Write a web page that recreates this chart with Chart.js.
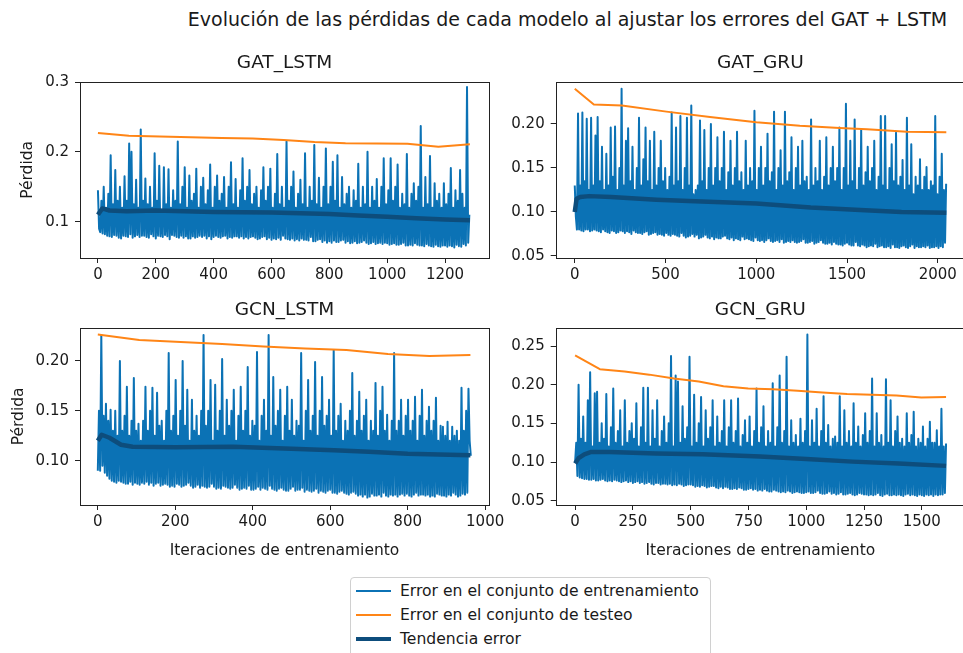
<!DOCTYPE html>
<html>
<head>
<meta charset="utf-8">
<script src="https://cdn.jsdelivr.net/npm/chart.js@4.4.1/dist/chart.umd.min.js"></script>
<style>
  html, body { margin: 0; padding: 0; background: #fff; }
  body { width: 963px; height: 653px; overflow: hidden; position: relative; font-family: 'DejaVu Sans', sans-serif; color: #1a1a1a; }
  canvas { position: absolute; }
  #suptitle { position: absolute; left: 150px; width: 835px; top: 8px; text-align: center; font-size: 19px; line-height: 22px; white-space: nowrap; }
  #legend { position: absolute; left: 350px; top: 577px; width: 361px; height: 100px; border: 1px solid #d0d0d0; border-radius: 4px; box-sizing: border-box; padding-top: 1px; }
  #legend .row { height: 24px; line-height: 24px; font-size: 15.6px; white-space: nowrap; position: relative; padding-left: 49px; }
  #legend .sw { position: absolute; left: 5px; width: 35px; }
</style>
</head>
<body>
<div id="suptitle">Evolución de las pérdidas de cada modelo al ajustar los errores del GAT + LSTM</div>
<canvas id="c1" width="530" height="250" style="left:0px;top:40px"></canvas>
<canvas id="c2" width="530" height="250" style="left:475px;top:40px"></canvas>
<canvas id="c3" width="530" height="270" style="left:0px;top:290px"></canvas>
<canvas id="c4" width="530" height="270" style="left:475px;top:290px"></canvas>
<div id="legend"></div>
<script>
// series names
const seriesNames = ["Error en el conjunto de entrenamiento", "Error en el conjunto de testeo", "Tendencia error"];
const trainColor = '#0b72b5';
const testColor = '#ff8516';
const trendColor = '#0d4d7c';

// GAT_LSTM
const gatLstmStep = 4; // iterations between kept samples
const gatLstmTrain = [
  0.145,0.09, 0.085,0.13, 0.083,0.150, 0.082,0.12, 0.08,0.140, 0.079,0.195, 0.078,0.125, 0.081,0.174, 0.080,0.13, 0.077,0.150,
  0.076,0.12, 0.08,0.165, 0.079,0.13, 0.078,0.212, 0.082,0.200, 0.077,0.125, 0.079,0.160, 0.081,0.12, 0.078,0.232, 0.080,0.13,
  0.08,0.162, 0.078,0.125, 0.077,0.150, 0.082,0.12, 0.079,0.198, 0.076,0.13, 0.08,0.180, 0.079,0.115, 0.078,0.178, 0.081,0.125,
  0.079,0.175, 0.075,0.12, 0.081,0.145, 0.080,0.13, 0.078,0.215, 0.077,0.125, 0.08,0.150, 0.077,0.178, 0.079,0.12, 0.076,0.166,
  0.076,0.13, 0.079,0.140, 0.077,0.176, 0.078,0.12, 0.08,0.150, 0.078,0.163, 0.080,0.125, 0.076,0.145, 0.079,0.182, 0.075,0.12,
  0.078,0.150, 0.08,0.166, 0.078,0.13, 0.077,0.140, 0.079,0.164, 0.080,0.12, 0.076,0.150, 0.078,0.185, 0.077,0.125, 0.079,0.161,
  0.079,0.12, 0.077,0.145, 0.079,0.191, 0.076,0.13, 0.078,0.150, 0.076,0.174, 0.078,0.125, 0.079,0.140, 0.077,0.150, 0.075,0.12,
  0.076,0.145, 0.078,0.178, 0.079,0.13, 0.075,0.150, 0.077,0.176, 0.074,0.12, 0.076,0.140, 0.075,0.197, 0.077,0.125, 0.074,0.150,
  0.080,0.12, 0.076,0.215, 0.075,0.13, 0.074,0.150, 0.076,0.172, 0.073,0.12, 0.075,0.140, 0.073,0.160, 0.076,0.125, 0.074,0.198,
  0.074,0.12, 0.073,0.150, 0.078,0.13, 0.072,0.210, 0.072,0.125, 0.074,0.163, 0.075,0.12, 0.071,0.150, 0.073,0.205, 0.070,0.125,
  0.072,0.150, 0.07,0.186, 0.073,0.13, 0.071,0.195, 0.071,0.12, 0.073,0.164, 0.074,0.125, 0.07,0.140, 0.072,0.150, 0.069,0.12,
  0.07,0.145, 0.072,0.13, 0.069,0.183, 0.070,0.12, 0.071,0.150, 0.073,0.125, 0.07,0.200, 0.068,0.12, 0.069,0.150, 0.071,0.13,
  0.068,0.161, 0.069,0.12, 0.07,0.150, 0.068,0.191, 0.070,0.125, 0.069,0.145, 0.067,0.191, 0.068,0.13, 0.069,0.150, 0.067,0.182,
  0.067,0.12, 0.068,0.140, 0.070,0.125, 0.066,0.197, 0.066,0.12, 0.067,0.140, 0.066,0.155, 0.069,0.13, 0.067,0.150, 0.066,0.237,
  0.066,0.12, 0.065,0.164, 0.068,0.125, 0.066,0.194, 0.065,0.12, 0.064,0.155, 0.067,0.13, 0.065,0.140, 0.064,0.12, 0.066,0.155,
  0.066,0.125, 0.064,0.140, 0.066,0.177, 0.065,0.12, 0.063,0.145, 0.067,0.13, 0.065,0.174, 0.064,0.140, 0.068,0.12, 0.066,0.293, 0.070,0.11
];
const gatLstmTestX = [0, 107, 214, 321, 428, 535, 642, 749, 856, 963, 1070, 1177, 1286];
const gatLstmTestY = [0.227, 0.223, 0.222, 0.221, 0.220, 0.219, 0.217, 0.214, 0.2125, 0.212, 0.2115, 0.2075, 0.211];
const gatLstmTrendX = [0, 15, 40, 100, 200, 300, 400, 500, 600, 700, 800, 900, 1000, 1100, 1200, 1286];
const gatLstmTrendY = [0.110, 0.119, 0.116, 0.115, 0.116, 0.115, 0.114, 0.1135, 0.113, 0.112, 0.111, 0.109, 0.107, 0.105, 0.103, 0.102];
const gatLstmXTicks = [0, 200, 400, 600, 800, 1000, 1200];
const gatLstmYTicks = [0.1, 0.2, 0.3];

// GAT_GRU
const gatGruStep = 6;
const gatGruTrain = [
  0.130,0.095, 0.08,0.212, 0.080,0.13, 0.079,0.213, 0.078,0.135, 0.08,0.206, 0.080,0.125, 0.078,0.207, 0.079,0.13, 0.08,0.187,
  0.079,0.208, 0.078,0.135, 0.077,0.174, 0.080,0.125, 0.078,0.166, 0.077,0.13, 0.076,0.196, 0.079,0.14, 0.078,0.197, 0.076,0.125,
  0.077,0.150, 0.079,0.240, 0.078,0.13, 0.076,0.181, 0.078,0.195, 0.077,0.135, 0.075,0.174, 0.079,0.125, 0.077,0.150, 0.076,0.207,
  0.076,0.13, 0.075,0.160, 0.077,0.196, 0.078,0.135, 0.074,0.181, 0.075,0.125, 0.076,0.191, 0.077,0.13, 0.074,0.150, 0.075,0.181,
  0.074,0.135, 0.073,0.150, 0.076,0.125, 0.074,0.140, 0.073,0.213, 0.075,0.13, 0.074,0.196, 0.073,0.135, 0.072,0.209, 0.076,0.125,
  0.073,0.150, 0.071,0.207, 0.072,0.13, 0.073,0.221, 0.075,0.12, 0.072,0.125, 0.074,0.13, 0.07,0.204, 0.071,0.135, 0.072,0.193,
  0.074,0.125, 0.071,0.150, 0.07,0.200, 0.072,0.13, 0.069,0.150, 0.071,0.185, 0.070,0.135, 0.07,0.150, 0.072,0.191, 0.073,0.125,
  0.07,0.145, 0.069,0.181, 0.071,0.13, 0.068,0.150, 0.07,0.191, 0.069,0.135, 0.068,0.145, 0.072,0.125, 0.069,0.181, 0.070,0.13,
  0.069,0.150, 0.068,0.135, 0.067,0.215, 0.071,0.125, 0.068,0.150, 0.067,0.174, 0.068,0.13, 0.066,0.150, 0.068,0.189, 0.070,0.135,
  0.067,0.145, 0.066,0.214, 0.067,0.125, 0.068,0.150, 0.066,0.170, 0.069,0.13, 0.065,0.214, 0.066,0.135, 0.067,0.145, 0.066,0.185,
  0.068,0.125, 0.066,0.150, 0.065,0.174, 0.066,0.13, 0.067,0.181, 0.069,0.135, 0.065,0.140, 0.065,0.125, 0.066,0.205, 0.067,0.13,
  0.064,0.150, 0.065,0.135, 0.066,0.181, 0.068,0.125, 0.065,0.140, 0.064,0.185, 0.064,0.13, 0.065,0.150, 0.063,0.174, 0.066,0.135,
  0.064,0.150, 0.063,0.196, 0.063,0.125, 0.062,0.150, 0.064,0.223, 0.065,0.13, 0.063,0.181, 0.062,0.135, 0.062,0.205, 0.066,0.125,
  0.062,0.150, 0.061,0.193, 0.063,0.13, 0.062,0.145, 0.06,0.174, 0.061,0.135, 0.062,0.150, 0.061,0.181, 0.064,0.125, 0.06,0.140,
  0.061,0.209, 0.062,0.13, 0.06,0.209, 0.060,0.125, 0.061,0.150, 0.059,0.177, 0.063,0.135, 0.06,0.190, 0.060,0.13, 0.059,0.140,
  0.061,0.159, 0.062,0.125, 0.06,0.207, 0.059,0.13, 0.061,0.177, 0.063,0.12, 0.059,0.140, 0.061,0.13, 0.06,0.160, 0.060,0.125,
  0.061,0.140, 0.06,0.151, 0.062,0.125, 0.059,0.135, 0.060,0.13, 0.06,0.209, 0.061,0.12, 0.059,0.140, 0.061,0.166, 0.060,0.125, 0.065,0.132
];
const gatGruTestX = [0, 105, 260, 505, 745, 1000, 1240, 1460, 1610, 1830, 2047];
const gatGruTestY = [0.240, 0.222, 0.221, 0.214, 0.208, 0.202, 0.198, 0.1955, 0.194, 0.191, 0.1905];
const gatGruTrendX = [0, 10, 30, 80, 200, 450, 700, 1000, 1300, 1600, 1800, 2047];
const gatGruTrendY = [0.100, 0.115, 0.117, 0.118, 0.117, 0.114, 0.112, 0.1095, 0.105, 0.102, 0.100, 0.099];
const gatGruXTicks = [0, 500, 1000, 1500, 2000];
const gatGruYTicks = [0.05, 0.10, 0.15, 0.20];

// GCN_LSTM
const gcnLstmStep = 3;
const gcnLstmTrain = [
  0.090,0.15, 0.09,0.226, 0.095,0.145, 0.088,0.157, 0.085,0.14, 0.082,0.151, 0.080,0.13, 0.079,0.150, 0.078,0.125, 0.08,0.200,
  0.079,0.13, 0.078,0.145, 0.077,0.174, 0.077,0.125, 0.079,0.140, 0.076,0.183, 0.078,0.13, 0.077,0.137, 0.076,0.12, 0.078,0.140,
  0.077,0.174, 0.079,0.13, 0.076,0.150, 0.078,0.173, 0.075,0.125, 0.077,0.168, 0.078,0.135, 0.075,0.140, 0.076,0.12, 0.077,0.150,
  0.076,0.208, 0.074,0.13, 0.075,0.145, 0.074,0.181, 0.077,0.125, 0.076,0.150, 0.074,0.200, 0.075,0.135, 0.076,0.171, 0.078,0.12,
  0.075,0.161, 0.073,0.13, 0.074,0.145, 0.076,0.125, 0.073,0.150, 0.075,0.226, 0.074,0.135, 0.073,0.150, 0.074,0.181, 0.077,0.12,
  0.074,0.176, 0.072,0.13, 0.073,0.150, 0.072,0.202, 0.075,0.125, 0.074,0.161, 0.073,0.135, 0.072,0.150, 0.073,0.171, 0.076,0.12,
  0.073,0.145, 0.071,0.174, 0.072,0.13, 0.073,0.150, 0.072,0.194, 0.075,0.125, 0.071,0.140, 0.071,0.135, 0.072,0.209, 0.074,0.12,
  0.071,0.145, 0.073,0.161, 0.072,0.13, 0.071,0.226, 0.075,0.125, 0.072,0.184, 0.071,0.135, 0.07,0.150, 0.072,0.171, 0.073,0.12,
  0.071,0.145, 0.07,0.174, 0.070,0.13, 0.072,0.161, 0.074,0.125, 0.07,0.140, 0.071,0.135, 0.071,0.208, 0.073,0.12, 0.069,0.150,
  0.071,0.181, 0.070,0.13, 0.069,0.145, 0.07,0.199, 0.072,0.125, 0.068,0.150, 0.07,0.184, 0.069,0.135, 0.068,0.145, 0.07,0.161,
  0.071,0.125, 0.068,0.211, 0.068,0.13, 0.067,0.145, 0.069,0.157, 0.070,0.12, 0.068,0.140, 0.067,0.13, 0.066,0.150, 0.068,0.188,
  0.069,0.125, 0.067,0.140, 0.065,0.169, 0.066,0.13, 0.064,0.145, 0.066,0.161, 0.063,0.12, 0.064,0.140, 0.067,0.13, 0.065,0.178,
  0.065,0.125, 0.066,0.150, 0.064,0.174, 0.068,0.13, 0.065,0.146, 0.064,0.12, 0.066,0.140, 0.065,0.208, 0.066,0.13, 0.064,0.140,
  0.066,0.161, 0.067,0.125, 0.065,0.145, 0.067,0.161, 0.065,0.13, 0.064,0.140, 0.066,0.164, 0.068,0.12, 0.065,0.145, 0.066,0.171,
  0.066,0.125, 0.065,0.140, 0.066,0.154, 0.064,0.13, 0.065,0.140, 0.064,0.163, 0.067,0.12, 0.066,0.135, 0.065,0.134, 0.065,0.125,
  0.064,0.139, 0.066,0.12, 0.065,0.134, 0.068,0.125, 0.066,0.130, 0.064,0.12, 0.065,0.173, 0.067,0.13, 0.066,0.150, 0.068,0.172, 0.12,0.105
];
const gcnLstmTestX = [0, 107, 214, 321, 428, 535, 642, 749, 856, 962];
const gcnLstmTestY = [0.2265, 0.221, 0.219, 0.217, 0.2145, 0.2125, 0.211, 0.207, 0.205, 0.206];
const gcnLstmTrendX = [0, 10, 30, 60, 90, 200, 350, 500, 610, 700, 800, 962];
const gcnLstmTrendY = [0.120, 0.126, 0.123, 0.116, 0.114, 0.1135, 0.114, 0.112, 0.1105, 0.109, 0.107, 0.1055];
const gcnLstmXTicks = [0, 200, 400, 600, 800, 1000];
const gcnLstmYTicks = [0.10, 0.15, 0.20];

// GCN_GRU
const gcnGruStep = 5;
const gcnGruTrain = [
  0.100,0.125, 0.082,0.200, 0.080,0.13, 0.079,0.159, 0.078,0.125, 0.078,0.180, 0.077,0.216, 0.077,0.12, 0.078,0.189, 0.076,0.191,
  0.076,0.125, 0.077,0.150, 0.078,0.13, 0.076,0.188, 0.075,0.12, 0.076,0.145, 0.075,0.195, 0.077,0.125, 0.076,0.140, 0.075,0.167,
  0.074,0.12, 0.075,0.180, 0.076,0.125, 0.074,0.140, 0.075,0.150, 0.073,0.13, 0.074,0.176, 0.075,0.12, 0.073,0.145, 0.074,0.196,
  0.072,0.125, 0.073,0.196, 0.074,0.12, 0.072,0.167, 0.071,0.13, 0.073,0.180, 0.073,0.12, 0.071,0.140, 0.072,0.159, 0.072,0.125,
  0.071,0.150, 0.072,0.237, 0.070,0.12, 0.071,0.212, 0.07,0.204, 0.072,0.125, 0.071,0.172, 0.069,0.13, 0.07,0.145, 0.071,0.236,
  0.071,0.12, 0.07,0.187, 0.068,0.125, 0.069,0.150, 0.068,0.184, 0.070,0.12, 0.069,0.167, 0.067,0.13, 0.068,0.145, 0.069,0.180,
  0.069,0.12, 0.067,0.159, 0.066,0.125, 0.068,0.140, 0.066,0.180, 0.068,0.12, 0.067,0.145, 0.065,0.180, 0.065,0.125, 0.066,0.140,
  0.065,0.182, 0.067,0.12, 0.066,0.135, 0.064,0.154, 0.064,0.125, 0.065,0.159, 0.066,0.12, 0.064,0.140, 0.065,0.195, 0.063,0.125,
  0.064,0.145, 0.063,0.172, 0.065,0.12, 0.063,0.140, 0.062,0.125, 0.062,0.202, 0.064,0.12, 0.063,0.145, 0.062,0.212, 0.061,0.125,
  0.062,0.140, 0.061,0.236, 0.063,0.12, 0.062,0.154, 0.060,0.125, 0.061,0.135, 0.062,0.12, 0.061,0.156, 0.060,0.125, 0.06,0.140,
  0.061,0.265, 0.062,0.12, 0.06,0.154, 0.060,0.125, 0.061,0.169, 0.063,0.12, 0.06,0.140, 0.059,0.185, 0.059,0.125, 0.06,0.148,
  0.062,0.12, 0.059,0.130, 0.06,0.133, 0.058,0.125, 0.059,0.185, 0.061,0.12, 0.058,0.167, 0.058,0.125, 0.059,0.140, 0.060,0.12,
  0.058,0.176, 0.057,0.125, 0.058,0.146, 0.060,0.12, 0.059,0.135, 0.058,0.163, 0.058,0.125, 0.057,0.140, 0.058,0.208, 0.057,0.12,
  0.058,0.163, 0.060,0.125, 0.057,0.135, 0.056,0.12, 0.058,0.207, 0.059,0.125, 0.057,0.180, 0.057,0.12, 0.058,0.140, 0.057,0.159,
  0.058,0.125, 0.057,0.130, 0.056,0.12, 0.058,0.163, 0.059,0.125, 0.057,0.135, 0.058,0.165, 0.057,0.12, 0.056,0.130, 0.058,0.125,
  0.057,0.146, 0.056,0.12, 0.058,0.130, 0.057,0.152, 0.058,0.125, 0.056,0.125, 0.058,0.141, 0.057,0.12, 0.058,0.169, 0.058,0.12, 0.06,0.124
];
const gcnGruTestX = [0, 107, 214, 321, 428, 535, 642, 749, 856, 963, 1070, 1177, 1284, 1391, 1498, 1605];
const gcnGruTestY = [0.238, 0.220, 0.217, 0.213, 0.208, 0.204, 0.198, 0.195, 0.194, 0.192, 0.190, 0.188, 0.187, 0.186, 0.1835, 0.184];
const gcnGruTrendX = [0, 15, 40, 70, 150, 350, 550, 800, 1000, 1200, 1400, 1605];
const gcnGruTrendY = [0.098, 0.105, 0.110, 0.113, 0.113, 0.111, 0.110, 0.107, 0.104, 0.1005, 0.098, 0.095];
const gcnGruXTicks = [0, 250, 500, 750, 1000, 1250, 1500];
const gcnGruYTicks = [0.05, 0.10, 0.15, 0.20, 0.25];

const pairs = (xs, ys) => xs.map((x, i) => ({x: x, y: ys[i]}));

// draws the full box around the plot area, like matplotlib spines
const frame = {
  id: 'frame',
  afterDraw(chart) {
    const {ctx, chartArea: a} = chart;
    ctx.save();
    ctx.strokeStyle = '#222';
    ctx.lineWidth = 1;
    ctx.strokeRect(Math.round(a.left) + 0.5, Math.round(a.top) + 0.5, Math.round(a.right - a.left), Math.round(a.bottom - a.top));
    ctx.restore();
  }
};

function makePanel(id, p) {
  const tickFont = {family: 'DejaVu Sans', size: 15};
  const labelFont = {family: 'DejaVu Sans', size: 15.5};
  return new Chart(document.getElementById(id), {
    type: 'line',
    data: {
      datasets: [
        {label: seriesNames[2], data: pairs(p.trendX, p.trendY), borderColor: trendColor, borderWidth: 4.5},
        {label: seriesNames[1], data: pairs(p.testX, p.testY), borderColor: testColor, borderWidth: 2},
        {label: seriesNames[0], data: p.train.map((v, i) => ({x: i * p.step, y: v})), borderColor: trainColor, borderWidth: 2}
      ]
    },
    options: {
      responsive: false,
      animation: false,
      devicePixelRatio: 1,
      elements: {point: {radius: 0}, line: {tension: 0, borderJoinStyle: 'round'}},
      layout: {padding: {top: 0, left: 0, right: p.padRight, bottom: 0}},
      plugins: {
        legend: {display: false},
        tooltip: {enabled: false},
        title: {
          display: true, text: p.title, fullSize: false, color: '#1a1a1a',
          font: {family: 'DejaVu Sans', size: 18.5, weight: 'normal'},
          padding: {top: p.titlePadTop, bottom: p.titlePadBottom}
        }
      },
      scales: {
        x: {
          type: 'linear', min: p.xMin, max: p.xMax,
          afterFit: s => { s.height = p.xAxisHeight; },
          afterBuildTicks: s => { s.ticks = p.xTicks.map(v => ({value: v})); },
          ticks: {font: tickFont, color: '#1a1a1a', padding: 3, maxRotation: 0, callback: v => String(v)},
          grid: {display: true, drawOnChartArea: false, drawTicks: true, tickLength: 5, color: '#222'},
          border: {display: false},
          title: {display: !!p.xTitle, text: p.xTitle, font: labelFont, color: '#1a1a1a', padding: {top: p.xTitlePad, bottom: 0}}
        },
        y: {
          min: p.yMin, max: p.yMax,
          afterFit: s => { s.width = p.yAxisWidth; },
          afterBuildTicks: s => { s.ticks = p.yTicks.map(v => ({value: v})); },
          ticks: {font: tickFont, color: '#1a1a1a', padding: 6, callback: v => v.toFixed(p.decimals)},
          grid: {display: true, drawOnChartArea: false, drawTicks: true, tickLength: 5, color: '#222'},
          border: {display: false},
          title: {display: !!p.yTitle, text: p.yTitle, font: labelFont, color: '#1a1a1a', padding: {top: p.yTitlePad, bottom: 0}}
        }
      }
    },
    plugins: [frame]
  });
}

makePanel('c1', {
  title: 'GAT_LSTM', train: gatLstmTrain, step: gatLstmStep,
  testX: gatLstmTestX, testY: gatLstmTestY, trendX: gatLstmTrendX, trendY: gatLstmTrendY,
  xTicks: gatLstmXTicks, yTicks: gatLstmYTicks, decimals: 1,
  xMin: -62, xMax: 1352, yMin: 0.048, yMax: 0.3005,
  padRight: 41, yAxisWidth: 80, xAxisHeight: 32, titlePadTop: 12.2, titlePadBottom: 7.3,
  yTitle: 'Pérdida', yTitlePad: 18.7, xTitle: '', xTitlePad: 0
});
makePanel('c2', {
  title: 'GAT_GRU', train: gatGruTrain, step: gatGruStep,
  testX: gatGruTestX, testY: gatGruTestY, trendX: gatGruTrendX, trendY: gatGruTrendY,
  xTicks: gatGruXTicks, yTicks: gatGruYTicks, decimals: 2,
  xMin: -105, xMax: 2150, yMin: 0.0477, yMax: 0.248,
  padRight: 40, yAxisWidth: 80.7, xAxisHeight: 32, titlePadTop: 12.2, titlePadBottom: 7.3,
  yTitle: '', yTitlePad: 0, xTitle: '', xTitlePad: 0
});
makePanel('c3', {
  title: 'GCN_LSTM', train: gcnLstmTrain, step: gcnLstmStep,
  testX: gcnLstmTestX, testY: gcnLstmTestY, trendX: gcnLstmTrendX, trendY: gcnLstmTrendY,
  xTicks: gcnLstmXTicks, yTicks: gcnLstmYTicks, decimals: 2,
  xMin: -46, xMax: 1010, yMin: 0.0556, yMax: 0.2333,
  padRight: 41, yAxisWidth: 80, xAxisHeight: 55, titlePadTop: 8.9, titlePadBottom: 6.6,
  yTitle: 'Pérdida', yTitlePad: 9.7, xTitle: 'Iteraciones de entrenamiento', xTitlePad: 14
});
makePanel('c4', {
  title: 'GCN_GRU', train: gcnGruTrain, step: gcnGruStep,
  testX: gcnGruTestX, testY: gcnGruTestY, trendX: gcnGruTrendX, trendY: gcnGruTrendY,
  xTicks: gcnGruXTicks, yTicks: gcnGruYTicks, decimals: 2,
  xMin: -84, xMax: 1687, yMin: 0.0444, yMax: 0.2737,
  padRight: 40, yAxisWidth: 80.7, xAxisHeight: 55, titlePadTop: 8.9, titlePadBottom: 6.6,
  yTitle: '', yTitlePad: 0, xTitle: 'Iteraciones de entrenamiento', xTitlePad: 14
});

// shared legend below the grid
const legendEntries = [
  {name: seriesNames[0], color: trainColor, width: 2},
  {name: seriesNames[1], color: testColor, width: 2},
  {name: seriesNames[2], color: trendColor, width: 4}
];
const legendBox = document.getElementById('legend');
legendEntries.forEach(e => {
  const row = document.createElement('div');
  row.className = 'row';
  const sw = document.createElement('span');
  sw.className = 'sw';
  sw.style.height = e.width + 'px';
  sw.style.top = (12 - e.width / 2) + 'px';
  sw.style.background = e.color;
  row.appendChild(sw);
  row.appendChild(document.createTextNode(e.name));
  legendBox.appendChild(row);
});
</script>
</body>
</html>
